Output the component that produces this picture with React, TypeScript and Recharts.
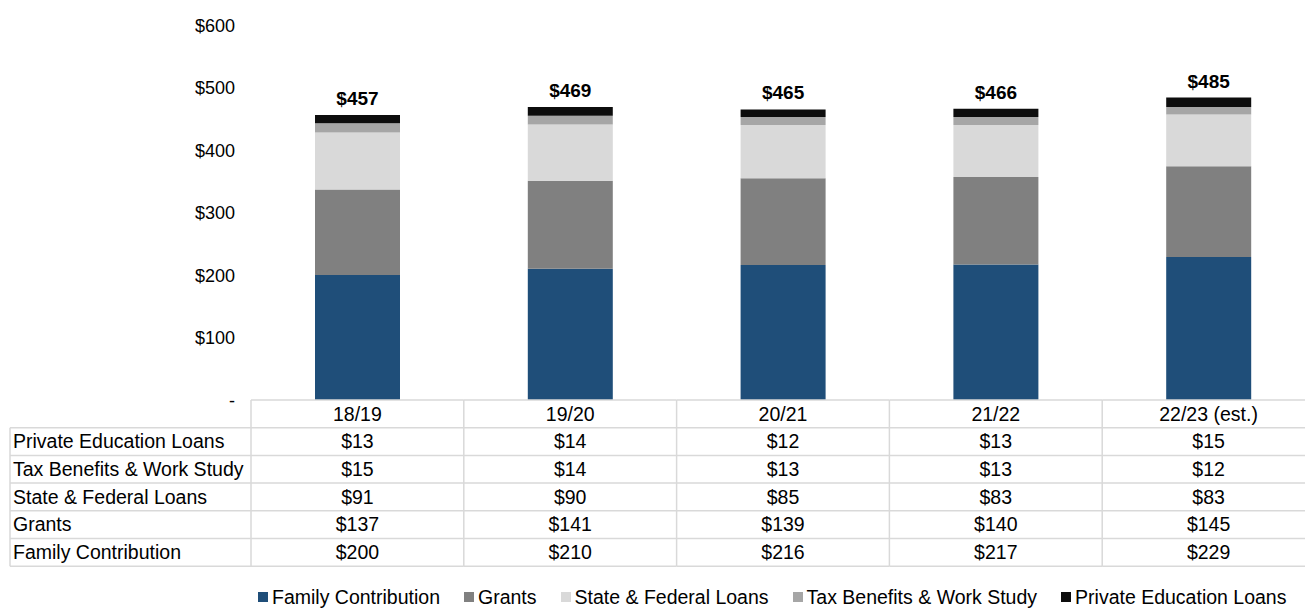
import React from 'react';
import { BarChart, Bar, XAxis, YAxis, Legend, LabelList } from 'recharts';

const categories = ['18/19', '19/20', '20/21', '21/22', '22/23 (est.)'];
const familyContribution = [200, 210, 216, 217, 229];
const grants = [137, 141, 139, 140, 145];
const stateFederalLoans = [91, 90, 85, 83, 83];
const taxBenefitsWorkStudy = [15, 14, 13, 13, 12];
const privateEducationLoans = [13, 14, 12, 13, 15];
const totals = [457, 469, 465, 466, 485];
const yTicks = [0, 100, 200, 300, 400, 500, 600];

const FONT = '"Liberation Sans", Arial, sans-serif';

const series = [
  { key: 'family', name: 'Family Contribution', color: '#1f4e79', values: familyContribution },
  { key: 'grants', name: 'Grants', color: '#808080', values: grants },
  { key: 'stateFed', name: 'State & Federal Loans', color: '#d9d9d9', values: stateFederalLoans },
  { key: 'tax', name: 'Tax Benefits & Work Study', color: '#a6a6a6', values: taxBenefitsWorkStudy },
  { key: 'private', name: 'Private Education Loans', color: '#0d0d0d', values: privateEducationLoans },
];

// table rows, top to bottom
const tableRows = [...series].reverse();

const data = categories.map((cat, i) => {
  const row: any = { cat, total: totals[i] };
  series.forEach((s) => (row[s.key] = s.values[i]));
  return row;
});

const ROW_H = 27.7;
const GRID = '#d9d9d9';
const TABLE_LEFT = 10;
const TFS = 19.5;

const TableColumn = (props: any) => {
  const { x, y, payload } = props;
  const idx = payload.index;
  const half = payload.offset || 106.4;
  const left = x - half;
  const right = x + half;
  const nRows = tableRows.length + 1;
  const bottom = y + nRows * ROW_H;
  const els: any[] = [];
  for (let r = 0; r <= nRows; r++) {
    els.push(<line key={'h' + r} x1={left} x2={right} y1={y + r * ROW_H} y2={y + r * ROW_H} stroke={GRID} strokeWidth={1.5} />);
  }
  els.push(<line key="vl" x1={left} x2={left} y1={y} y2={bottom} stroke={GRID} strokeWidth={1.5} />);
  els.push(
    <text key="hdr" x={x} y={y + ROW_H / 2 + 6.8} textAnchor="middle" fontSize={TFS} fontFamily={FONT} fill="#000">
      {payload.value}
    </text>
  );
  tableRows.forEach((s, r) => {
    els.push(
      <text key={'v' + r} x={x} y={y + (r + 1) * ROW_H + ROW_H / 2 + 6.8} textAnchor="middle" fontSize={TFS} fontFamily={FONT} fill="#000">
        {'$' + s.values[idx]}
      </text>
    );
  });
  if (idx === 0) {
    for (let r = 1; r <= nRows; r++) {
      els.push(<line key={'lh' + r} x1={TABLE_LEFT} x2={left} y1={y + r * ROW_H} y2={y + r * ROW_H} stroke={GRID} strokeWidth={1.5} />);
    }
    els.push(<line key="lv" x1={TABLE_LEFT} x2={TABLE_LEFT} y1={y + ROW_H} y2={bottom} stroke={GRID} strokeWidth={1.5} />);
    tableRows.forEach((s, r) => {
      els.push(
        <text key={'l' + r} x={TABLE_LEFT + 3} y={y + (r + 1) * ROW_H + ROW_H / 2 + 6.8} textAnchor="start" fontSize={TFS} fontFamily={FONT} fill="#000">
          {s.name}
        </text>
      );
    });
  }
  return <g>{els}</g>;
};

const YTick = (props: any) => {
  const { x, y, payload } = props;
  return (
    <text x={x} y={y + 6.5} textAnchor="end" fontSize={18} fontFamily={FONT} fill="#000">
      {payload.value === 0 ? '-' : '$' + payload.value}
    </text>
  );
};

const renderLegend = (props: any) => {
  const order = series.map((s) => s.name);
  const payload = [...(props.payload || [])].sort((a: any, b: any) => order.indexOf(a.value) - order.indexOf(b.value));
  return (
    <div style={{ display: 'flex', justifyContent: 'flex-start', alignItems: 'center', fontFamily: FONT, fontSize: 19.5, lineHeight: '22px', color: '#000', whiteSpace: 'nowrap' }}>
      {payload.map((p: any, i: number) => (
        <div key={i} style={{ display: 'flex', alignItems: 'center', marginRight: 24 }}>
          <span style={{ display: 'inline-block', width: 10, height: 10, background: p.color, marginRight: 4 }} />
          <span>{p.value}</span>
        </div>
      ))}
    </div>
  );
};

export default function App() {
  return (
    <div style={{ position: 'absolute', left: 0, top: 0, width: 1305, height: 610, background: '#fff', overflow: 'hidden' }}>
      <BarChart width={1315} height={610} data={data} margin={{ top: 25, right: 0, bottom: 0, left: 0 }} barSize={85}>
        <YAxis
          width={251}
          domain={[0, 600]}
          ticks={yTicks}
          axisLine={false}
          tickLine={false}
          tickSize={0}
          tickMargin={16}
          tick={<YTick />}
          interval={0}
        />
        <XAxis
          dataKey="cat"
          height={210}
          axisLine={false}
          tickLine={false}
          tickSize={0}
          tickMargin={0}
          interval={0}
          tick={<TableColumn />}
        />
        {series.map((s) => (
          <Bar key={s.key} dataKey={s.key} name={s.name} stackId="a" fill={s.color} isAnimationActive={false}>
            {s.key === 'private' ? (
              <LabelList
                dataKey="total"
                position="top"
                offset={10}
                formatter={(v: any) => '$' + v}
                style={{ fontSize: 19, fontWeight: 'bold', fontFamily: FONT, fill: '#000' }}
              />
            ) : null}
          </Bar>
        ))}
        <Legend
          layout="horizontal"
          verticalAlign="middle"
          align="center"
          content={renderLegend}
          wrapperStyle={{ position: 'absolute', left: 258, top: 586, width: 1100 }}
        />
      </BarChart>
    </div>
  );
}
